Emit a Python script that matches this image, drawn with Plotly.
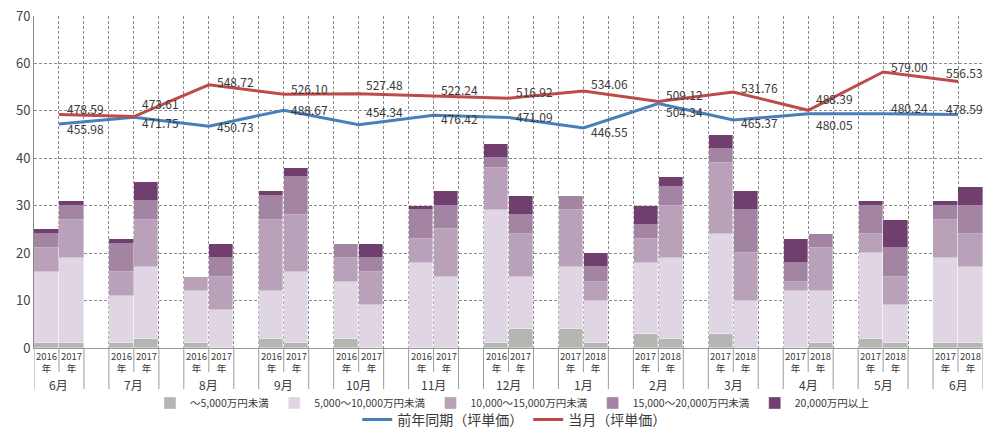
import plotly.graph_objects as go

# ---------------- data ----------------
months = ['6月', '7月', '8月', '9月', '10月', '11月', '12月', '1月', '2月', '3月', '4月', '5月', '6月']
year_labels = ['2016', '2017'] * 7 + ['2017', '2018'] * 6   # two bars per month

series_names = ['～5,000万円未満', '5,000～10,000万円未満', '10,000～15,000万円未満',
                '15,000～20,000万円未満', '20,000万円以上']
under_5000 = [1, 1, 1, 2, 1, 0, 2, 1, 2, 0, 0, 0, 1, 4, 4, 1, 3, 2, 3, 0, 0, 1, 2, 1, 1, 1]
from_5000 = [15, 18, 10, 15, 11, 8, 10, 15, 12, 9, 18, 15, 28, 11, 13, 9, 15, 17, 21, 10, 12, 11, 18, 8, 18, 16]
from_10000 = [5, 8, 5, 10, 3, 7, 15, 12, 5, 7, 5, 10, 9, 9, 12, 4, 5, 11, 15, 10, 2, 9, 4, 6, 8, 7]
from_15000 = [3, 3, 6, 4, 0, 4, 5, 8, 3, 3, 6, 5, 2, 4, 3, 3, 3, 4, 3, 9, 4, 3, 6, 6, 3, 6]
over_20000 = [1, 1, 1, 4, 0, 3, 1, 2, 0, 3, 1, 3, 3, 4, 0, 3, 4, 2, 3, 4, 5, 0, 1, 6, 1, 4]

line_names = ['前年同期（坪単価）', '当月（坪単価）']
prev_year_price = [455.98, 471.75, 450.73, 488.67, 454.34, 476.42, 471.09, 446.55, 504.34, 465.37, 480.05, 480.24, 478.59]
current_price = [478.59, 473.61, 548.72, 526.10, 527.48, 522.24, 516.92, 534.06, 509.12, 531.76, 488.39, 579.00, 556.53]

# ---------------- styling ----------------
bar_colors = ['#b4b6b1', '#e0d6e3', '#b9a1b9', '#a384a3', '#703f6e']
line_colors = ['#4a7ebb', '#be4b4a']
# vertical pixel nudges of the value labels (positive = up)
prev_label_shift = [-4, -5, 0, 1, 13, -3, 1, -4, -8, -2, -11, 6, 6]
curr_label_shift = [6, 13, 3, 6, 9, 6, 7, 7, 7, 4, 12, 5, 9]
font_family = 'Noto Sans CJK JP, Noto Sans, sans-serif'
text_color = '#3a3a3a'
grid_color = '#8c8c8c'

n_slots = 3 * len(months) - 1
bar_x = [3 * (k // 2) + (k % 2) + 0.5 for k in range(len(year_labels))]
line_x = [3 * i + 1 for i in range(len(months))]

fig = go.Figure()
for name, vals, col in zip(series_names,
                           [under_5000, from_5000, from_10000, from_15000, over_20000],
                           bar_colors):
    fig.add_trace(go.Bar(x=bar_x, y=vals, name=name, marker_color=col,
                         marker_line_color='rgba(255,255,255,0.6)', marker_line_width=0.6,
                         width=0.97, legend='legend'))

for name, vals, col in zip(line_names, [prev_year_price, current_price], line_colors):
    fig.add_trace(go.Scatter(x=line_x, y=vals, name=name, mode='lines',
                             line=dict(color=col, width=3), yaxis='y2', legend='legend2'))

annotations = []
# value labels
for vals, shifts in [(prev_year_price, prev_label_shift), (current_price, curr_label_shift)]:
    for i, (v, s) in enumerate(zip(vals, shifts)):
        dx = 1.05 if i < len(vals) - 1 else 0.27
        annotations.append(dict(x=line_x[i] + dx, y=v, xref='x', yref='y2', text=f'{v:.2f}',
                                showarrow=False, yshift=s, xanchor='center', yanchor='middle',
                                font=dict(size=12, color=text_color, family=font_family)))

PH = 332.0  # plot height in px
# category labels
for k, yl in enumerate(year_labels):
    annotations.append(dict(x=bar_x[k], y=0, xref='x', yref='paper', text=f'{yl}<br>年',
                            showarrow=False, yshift=-14, yanchor='middle', xanchor='center',
                            borderpad=0,
                            font=dict(size=9.5, color=text_color, family=font_family)))
for i, m in enumerate(months):
    annotations.append(dict(x=line_x[i], y=0, xref='x', yref='paper', text=m, showarrow=False,
                            yshift=-36, yanchor='middle', xanchor='center', borderpad=0,
                            font=dict(size=12, color=text_color, family=font_family)))

shapes = []
for s in range(n_slots + 1):
    short = (s % 3 == 1)
    depth = 24 if short else 41
    shapes.append(dict(type='line', xref='x', yref='paper', x0=s, x1=s, y0=0, y1=-depth / PH,
                       line=dict(color='#9a9a9a', width=1)))

fig.update_layout(
    width=984, height=429,
    margin=dict(l=34, r=1, t=16, b=81, autoexpand=False),
    paper_bgcolor='white', plot_bgcolor='white',
    barmode='stack', bargap=0,
    font=dict(family=font_family, color=text_color),
    xaxis=dict(range=[0, n_slots], tickmode='linear', tick0=0, dtick=1, showticklabels=False,
               showgrid=True, gridcolor=grid_color, griddash='3px,2px', gridwidth=1,
               zeroline=False, showline=True, linecolor='#9a9a9a', linewidth=1),
    yaxis=dict(range=[0, 70], tickmode='linear', tick0=0, dtick=10,
               showgrid=True, gridcolor=grid_color, griddash='3px,2px', gridwidth=1,
               zeroline=False, showline=True, linecolor='#8a8a8a', linewidth=1,
               tickfont=dict(size=13, color='#444444'), ticks=''),
    yaxis2=dict(range=[-73.8, 711.4], overlaying='y', side='right', visible=False,
                showgrid=False, zeroline=False),
    legend=dict(orientation='h', x=0.5037, xanchor='center', y=-55 / PH, yanchor='middle',
                traceorder='normal', font=dict(size=10.5, color=text_color, family=font_family),
                itemwidth=30, bgcolor='rgba(0,0,0,0)'),
    legend2=dict(orientation='h', x=0.506, xanchor='center', y=-72 / PH, yanchor='middle',
                 traceorder='normal', font=dict(size=14, color=text_color, family=font_family),
                 itemwidth=30, bgcolor='rgba(0,0,0,0)'),
    annotations=annotations,
    shapes=shapes,
    showlegend=True,
)

fig.write_html('out.html')
